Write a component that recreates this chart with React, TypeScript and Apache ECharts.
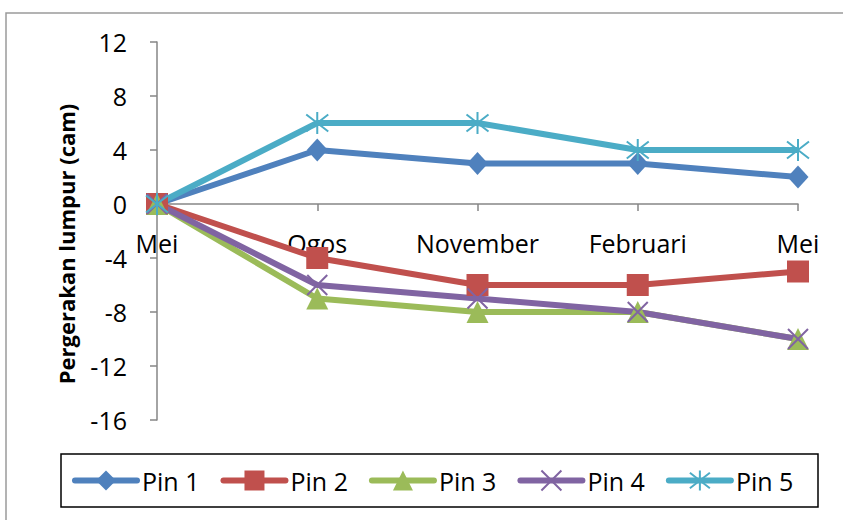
import React, { useEffect, useRef } from "react";
import * as echarts from "echarts";

const categories = ["Mei", "Ogos", "November", "Februari", "Mei"];
const pin1 = [0, 4, 3, 3, 2];
const pin2 = [0, -4, -6, -6, -5];
const pin3 = [0, -7, -8, -8, -10];
const pin4 = [0, -6, -7, -8, -10];
const pin5 = [0, 6, 6, 4, 4];
const seriesNames = ["Pin 1", "Pin 2", "Pin 3", "Pin 4", "Pin 5"];
const yAxisTitle = "Pergerakan lumpur (cam)";

const FONT = "'Open Sans', sans-serif";
const COLORS = ["#4F81BD", "#C0504D", "#9BBB59", "#8064A2", "#4BACC6"];
const X_SYMBOL = "path://M0,0 L10,10 M10,0 L0,10";
const STAR_SYMBOL = "path://M0,0 L10,10 M10,0 L0,10 M5,-1.5 L5,11.5";

export default function App() {
  const ref = useRef<HTMLDivElement>(null);
  useEffect(() => {
    if (!ref.current) return;
    const chart = echarts.init(ref.current, null, { renderer: "svg" });
    const datas = [pin1, pin2, pin3, pin4, pin5];
    const symbols = ["diamond", "rect", "triangle", X_SYMBOL, STAR_SYMBOL];
    const sizes: any[] = [[21, 23], 22, 22, 20, 22];
    const series = datas.map((d, i) => ({
      name: seriesNames[i],
      type: "line",
      data: d,
      symbol: symbols[i],
      symbolSize: sizes[i],
      showAllSymbol: true,
      lineStyle: { color: COLORS[i], width: 6 },
      itemStyle:
        i >= 3
          ? { color: COLORS[i], borderColor: COLORS[i], borderWidth: 2 }
          : { color: COLORS[i], borderWidth: 0 },
      emphasis: { disabled: true },
    }));
    chart.setOption({
      animation: false,
      textStyle: { fontFamily: FONT },
      grid: { left: 157, right: 45, top: 42, bottom: 100 },
      legend: {
        left: 72,
        top: 468,
        itemWidth: 62,
        itemHeight: 25,
        itemGap: 21,
        padding: 0,
        data: seriesNames,
        lineStyle: { width: 6, cap: "round" },
        textStyle: { fontFamily: FONT, fontSize: 25, color: "#000" },
      },
      xAxis: {
        type: "category",
        data: categories,
        boundaryGap: false,
        position: "bottom",
        offset: -216,
        axisLine: { onZero: false, lineStyle: { color: "#868686", width: 1.5 } },
        axisTick: { show: true, length: 7, lineStyle: { color: "#868686", width: 1.5 } },
        axisLabel: { fontFamily: FONT, fontSize: 25, color: "#000", margin: 26, interval: 0 },
        splitLine: { show: false },
      },
      yAxis: {
        type: "value",
        min: -16,
        max: 12,
        interval: 4,
        axisLine: { show: true, lineStyle: { color: "#868686", width: 1.5 } },
        axisTick: { show: true, length: 7, lineStyle: { color: "#868686", width: 1.5 } },
        axisLabel: { fontFamily: FONT, fontSize: 25, color: "#000", margin: 30 },
        splitLine: { show: false },
      },
      graphic: [
        {
          type: "rect",
          shape: { x: 6, y: 13, width: 900, height: 600 },
          style: { fill: "none", stroke: "#9a9a9a", lineWidth: 1.5 },
          silent: true,
        },
        {
          type: "rect",
          shape: { x: 61, y: 454, width: 757, height: 53 },
          style: { fill: "none", stroke: "#000", lineWidth: 1.5 },
          silent: true,
        },
        {
          type: "text",
          x: 66,
          y: 244,
          rotation: Math.PI / 2,
          style: {
            text: yAxisTitle,
            fontFamily: FONT,
            fontWeight: "bold",
            fontSize: 22,
            fill: "#000",
            align: "center",
            verticalAlign: "middle",
          },
        },
      ],
      series,
    });
    return () => chart.dispose();
  }, []);
  return <div ref={ref} style={{ width: 843, height: 520, position: "absolute", left: 0, top: 0, background: "#fff" }} />;
}
